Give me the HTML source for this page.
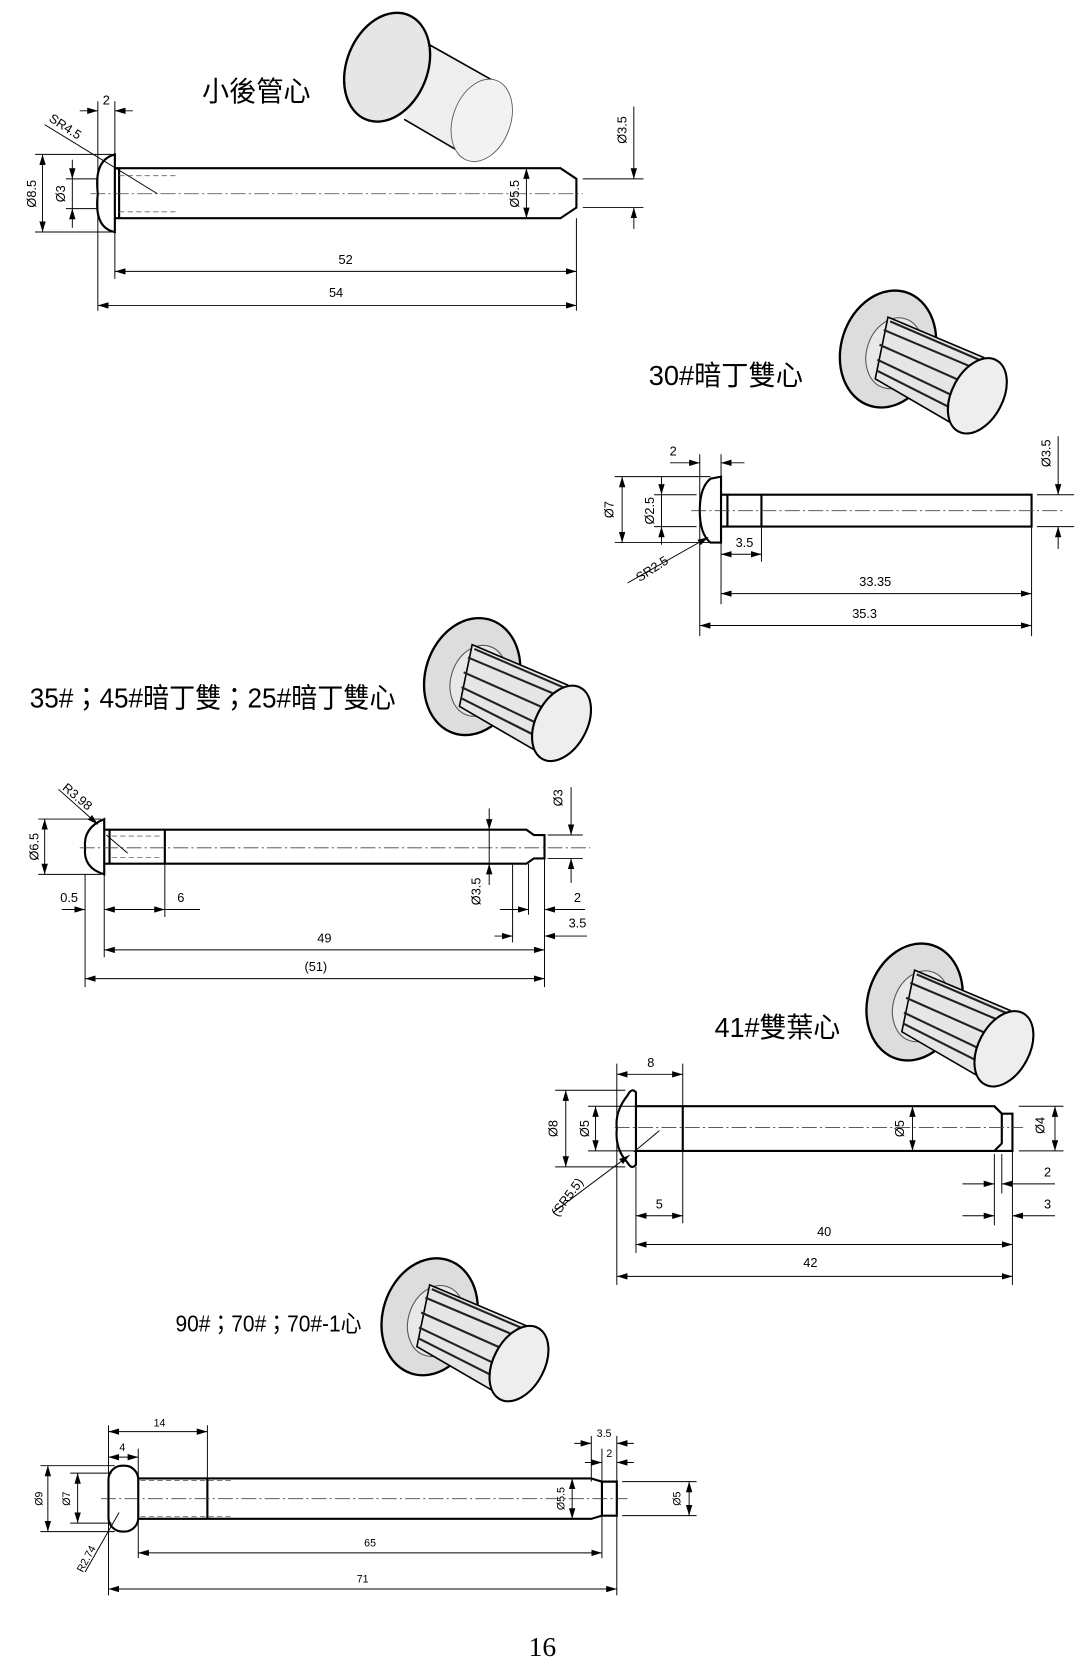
<!DOCTYPE html>
<html><head><meta charset="utf-8"><style>
html,body{margin:0;padding:0;background:#fff;}
svg{display:block;}
.o{fill:none;stroke:#000;stroke-width:2;}
.d{fill:none;stroke:#000;stroke-width:0.9;}
.c{fill:none;stroke:#444;stroke-width:0.8;stroke-dasharray:14 3 2 3;}
.h{fill:none;stroke:#666;stroke-width:0.8;stroke-dasharray:5 3;}
.t{font-family:"Liberation Sans Narrow","Liberation Sans",sans-serif;font-size:12px;fill:#000;}
.ti{font-family:"Liberation Sans","Noto Sans CJK TC",sans-serif;font-size:26px;fill:#000;}
</style></head><body>
<svg width="1089" height="1669" viewBox="0 0 1024 1569" xmlns="http://www.w3.org/2000/svg">
<defs>
<marker id="a" viewBox="0 0 10 6" refX="10" refY="3" markerWidth="10" markerHeight="6" markerUnits="userSpaceOnUse" orient="auto-start-reverse"><path d="M0,0 L10,3 L0,6 z" fill="#000"/></marker>
<g id="spl">
 <ellipse cx="0" cy="0" rx="44" ry="56" transform="rotate(18)" fill="#ddd" stroke="#000" stroke-width="2.2"/>
 <ellipse cx="6" cy="4" rx="26" ry="34" transform="rotate(18 6 4)" fill="#e8e8e8" stroke="#555" stroke-width="1"/>
 <path d="M0,-30 L90,8 L74,78 L-12,28 z" fill="#e6e6e6" stroke="#000" stroke-width="1.5"/>
 <path d="M-4,-18 L86,20 M-8,-4 L82,36 M-10,10 L78,52 M-11,20 L76,64 M2,-26 L90,12" stroke="#222" stroke-width="2"/>
 <ellipse cx="84" cy="44" rx="24" ry="38" transform="rotate(28 84 44)" fill="#eee" stroke="#000" stroke-width="2"/>
</g>
</defs>

<!-- ===== 1 ===== -->
<text class="ti" x="190" y="95" textLength="102" lengthAdjust="spacingAndGlyphs">小後管心</text>
<g>
 <path d="M404,42 L468,78 L440,147 L380,112 z" fill="#eee"/>
 <line x1="404" y1="42" x2="468" y2="78" stroke="#000" stroke-width="1.5"/>
 <line x1="380" y1="112" x2="440" y2="147" stroke="#000" stroke-width="1.5"/>
 <ellipse cx="453" cy="113" rx="27" ry="40" transform="rotate(20 453 113)" fill="#f2f2f2" stroke="#555" stroke-width="0.8"/>
 <ellipse cx="364" cy="63" rx="38" ry="53" transform="rotate(22 364 63)" fill="#e6e6e6" stroke="#000" stroke-width="2.2"/>
</g>
<path class="o" d="M108,145 Q88,150 92,182 Q88,214 108,218 Z"/>
<path class="o" d="M108,158 L527,158 L542,168 L542,195 L527,205 L108,205"/>
<line class="o" x1="112" y1="158" x2="112" y2="205"/>
<line class="c" x1="85" y1="182" x2="548" y2="182"/>
<line class="h" x1="112" y1="165" x2="165" y2="165"/><line class="h" x1="112" y1="199" x2="165" y2="199"/>
<line class="d" x1="33" y1="145" x2="105" y2="145"/><line class="d" x1="33" y1="218" x2="105" y2="218"/>
<line class="d" x1="40" y1="145" x2="40" y2="218" marker-start="url(#a)" marker-end="url(#a)"/>
<text class="t" transform="rotate(-90 30 182)" x="30" y="186" text-anchor="middle">Ø8.5</text>
<line class="d" x1="62" y1="168" x2="92" y2="168"/><line class="d" x1="62" y1="196" x2="92" y2="196"/>
<line class="d" x1="68" y1="150" x2="68" y2="168" marker-end="url(#a)"/><line class="d" x1="68" y1="214" x2="68" y2="196" marker-end="url(#a)"/>
<line class="d" x1="68" y1="168" x2="68" y2="196"/>
<text class="t" transform="rotate(-90 57 182)" x="57" y="186" text-anchor="middle">Ø3</text>
<line class="d" x1="92" y1="95" x2="92" y2="292"/><line class="d" x1="108" y1="95" x2="108" y2="262"/><line class="d" x1="542" y1="205" x2="542" y2="292"/>
<line class="d" x1="75" y1="104" x2="92" y2="104" marker-end="url(#a)"/><line class="d" x1="125" y1="104" x2="108" y2="104" marker-end="url(#a)"/>
<text class="t" x="100" y="98" text-anchor="middle">2</text>
<line class="d" x1="42" y1="117" x2="148" y2="182"/>
<text class="t" transform="rotate(33 60 118)" x="45" y="122">SR4.5</text>
<line class="d" x1="495" y1="158" x2="495" y2="205" marker-start="url(#a)" marker-end="url(#a)"/>
<text class="t" transform="rotate(-90 484 182)" x="484" y="186" text-anchor="middle">Ø5.5</text>
<line class="d" x1="548" y1="168" x2="605" y2="168"/><line class="d" x1="548" y1="195" x2="605" y2="195"/>
<line class="d" x1="596" y1="100" x2="596" y2="168" marker-end="url(#a)"/><line class="d" x1="596" y1="215" x2="596" y2="195" marker-end="url(#a)"/>
<text class="t" transform="rotate(-90 585 122)" x="585" y="126" text-anchor="middle">Ø3.5</text>
<line class="d" x1="108" y1="255" x2="542" y2="255" marker-start="url(#a)" marker-end="url(#a)"/><text class="t" x="325" y="248" text-anchor="middle">52</text>
<line class="d" x1="92" y1="287" x2="542" y2="287" marker-start="url(#a)" marker-end="url(#a)"/><text class="t" x="316" y="279" text-anchor="middle">54</text>

<!-- ===== 2 ===== -->
<text class="ti" x="610" y="362" textLength="145" lengthAdjust="spacingAndGlyphs">30#暗丁雙心</text>
<use href="#spl" x="835" y="328"/>
<path class="o" d="M678,448 L668,450 Q658,458 658,480 Q658,502 668,510 L678,510 Z"/>
<path class="o" d="M678,465 L970,465 L970,495 L678,495"/>
<line class="o" x1="684" y1="465" x2="684" y2="495"/><line class="o" x1="716" y1="465" x2="716" y2="495"/>
<line class="c" x1="650" y1="480" x2="1002" y2="480"/>
<line class="d" x1="578" y1="448" x2="668" y2="448"/><line class="d" x1="578" y1="510" x2="668" y2="510"/>
<line class="d" x1="585" y1="448" x2="585" y2="510" marker-start="url(#a)" marker-end="url(#a)"/>
<text class="t" transform="rotate(-90 573 479)" x="573" y="483" text-anchor="middle">Ø7</text>
<line class="d" x1="615" y1="465" x2="655" y2="465"/><line class="d" x1="615" y1="495" x2="655" y2="495"/>
<line class="d" x1="622" y1="448" x2="622" y2="465" marker-end="url(#a)"/><line class="d" x1="622" y1="512" x2="622" y2="495" marker-end="url(#a)"/>
<line class="d" x1="622" y1="465" x2="622" y2="495"/>
<text class="t" transform="rotate(-90 611 480)" x="611" y="484" text-anchor="middle">Ø2.5</text>
<line class="d" x1="658" y1="427" x2="658" y2="598"/><line class="d" x1="678" y1="427" x2="678" y2="568"/><line class="d" x1="716" y1="495" x2="716" y2="528"/><line class="d" x1="970" y1="495" x2="970" y2="598"/>
<line class="d" x1="630" y1="435" x2="658" y2="435" marker-end="url(#a)"/><line class="d" x1="700" y1="435" x2="678" y2="435" marker-end="url(#a)"/>
<text class="t" x="633" y="428" text-anchor="middle">2</text>
<line class="d" x1="590" y1="548" x2="666" y2="505" marker-end="url(#a)"/>
<text class="t" transform="rotate(-33 605 540)" x="598" y="544">SR2.5</text>
<line class="d" x1="678" y1="521" x2="716" y2="521" marker-start="url(#a)" marker-end="url(#a)"/><text class="t" x="700" y="514" text-anchor="middle">3.5</text>
<line class="d" x1="975" y1="465" x2="1010" y2="465"/><line class="d" x1="975" y1="495" x2="1010" y2="495"/>
<line class="d" x1="995" y1="410" x2="995" y2="465" marker-end="url(#a)"/><line class="d" x1="995" y1="516" x2="995" y2="495" marker-end="url(#a)"/>
<text class="t" transform="rotate(-90 984 426)" x="984" y="430" text-anchor="middle">Ø3.5</text>
<line class="d" x1="678" y1="558" x2="970" y2="558" marker-start="url(#a)" marker-end="url(#a)"/><text class="t" x="823" y="551" text-anchor="middle">33.35</text>
<line class="d" x1="658" y1="588" x2="970" y2="588" marker-start="url(#a)" marker-end="url(#a)"/><text class="t" x="813" y="581" text-anchor="middle">35.3</text>

<!-- ===== 3 ===== -->
<text class="ti" x="28" y="665" textLength="344" lengthAdjust="spacingAndGlyphs">35#；45#暗丁雙；25#暗丁雙心</text>
<use href="#spl" x="444" y="636"/>
<path class="o" d="M98,770 Q78,778 80,797 Q78,816 98,822 Z"/>
<path class="o" d="M98,780 L495,780 L502,785 L512,785 L512,807 L502,807 L495,812 L98,812"/>
<line class="o" x1="103" y1="780" x2="103" y2="812"/><line class="o" x1="155" y1="780" x2="155" y2="812"/>
<line class="c" x1="75" y1="797" x2="555" y2="797"/>
<line class="h" x1="105" y1="786" x2="152" y2="786"/><line class="h" x1="105" y1="806" x2="152" y2="806"/>
<line class="d" x1="36" y1="770" x2="95" y2="770"/><line class="d" x1="36" y1="822" x2="95" y2="822"/>
<line class="d" x1="42" y1="770" x2="42" y2="822" marker-start="url(#a)" marker-end="url(#a)"/>
<text class="t" transform="rotate(-90 32 796)" x="32" y="800" text-anchor="middle">Ø6.5</text>
<line class="d" x1="55" y1="742" x2="92" y2="775" marker-end="url(#a)"/><line class="d" x1="100" y1="785" x2="120" y2="802"/>
<text class="t" transform="rotate(40 62 740)" x="60" y="744">R3.98</text>
<line class="d" x1="460" y1="760" x2="460" y2="780" marker-end="url(#a)"/><line class="d" x1="460" y1="832" x2="460" y2="812" marker-end="url(#a)"/><line class="d" x1="460" y1="780" x2="460" y2="812"/>
<text class="t" transform="rotate(-90 448 838)" x="448" y="842" text-anchor="middle">Ø3.5</text>
<line class="d" x1="515" y1="785" x2="548" y2="785"/><line class="d" x1="515" y1="807" x2="548" y2="807"/>
<line class="d" x1="537" y1="740" x2="537" y2="785" marker-end="url(#a)"/><line class="d" x1="537" y1="830" x2="537" y2="807" marker-end="url(#a)"/>
<text class="t" transform="rotate(-90 525 750)" x="525" y="754" text-anchor="middle">Ø3</text>
<line class="d" x1="80" y1="822" x2="80" y2="928"/><line class="d" x1="98" y1="822" x2="98" y2="900"/><line class="d" x1="155" y1="812" x2="155" y2="862"/>
<line class="d" x1="482" y1="812" x2="482" y2="886"/><line class="d" x1="497" y1="812" x2="497" y2="860"/><line class="d" x1="512" y1="807" x2="512" y2="928"/>
<line class="d" x1="58" y1="855" x2="80" y2="855" marker-end="url(#a)"/><line class="d" x1="98" y1="855" x2="155" y2="855" marker-start="url(#a)" marker-end="url(#a)"/><line class="d" x1="155" y1="855" x2="188" y2="855"/>
<text class="t" x="65" y="848" text-anchor="middle">0.5</text><text class="t" x="170" y="848" text-anchor="middle">6</text>
<line class="d" x1="470" y1="855" x2="497" y2="855" marker-end="url(#a)"/><line class="d" x1="550" y1="855" x2="512" y2="855" marker-end="url(#a)"/>
<text class="t" x="543" y="848" text-anchor="middle">2</text>
<line class="d" x1="465" y1="880" x2="482" y2="880" marker-end="url(#a)"/><line class="d" x1="552" y1="880" x2="512" y2="880" marker-end="url(#a)"/>
<text class="t" x="543" y="872" text-anchor="middle">3.5</text>
<line class="d" x1="98" y1="893" x2="512" y2="893" marker-start="url(#a)" marker-end="url(#a)"/><text class="t" x="305" y="886" text-anchor="middle">49</text>
<line class="d" x1="80" y1="920" x2="512" y2="920" marker-start="url(#a)" marker-end="url(#a)"/><text class="t" x="297" y="913" text-anchor="middle">(51)</text>

<!-- ===== 4 ===== -->
<text class="ti" x="672" y="975" textLength="118" lengthAdjust="spacingAndGlyphs">41#雙葉心</text>
<use href="#spl" x="860" y="942"/>
<path class="o" d="M598,1027 Q594,1022 590,1030 Q578,1045 580,1061 Q578,1080 590,1093 Q594,1100 598,1095 Z"/>
<path class="o" d="M598,1040 L935,1040 L942,1047 L952,1047 L952,1082 L942,1082 L935,1082 L598,1082"/>
<path class="o" d="M935,1040 L942,1047 L942,1075 L935,1082"/>
<line class="o" x1="642" y1="1040" x2="642" y2="1082"/>
<line class="c" x1="578" y1="1060" x2="962" y2="1060"/>
<line class="d" x1="522" y1="1025" x2="588" y2="1025"/><line class="d" x1="522" y1="1097" x2="588" y2="1097"/>
<line class="d" x1="532" y1="1025" x2="532" y2="1097" marker-start="url(#a)" marker-end="url(#a)"/>
<text class="t" transform="rotate(-90 520 1061)" x="520" y="1065" text-anchor="middle">Ø8</text>
<line class="d" x1="553" y1="1040" x2="598" y2="1040"/><line class="d" x1="553" y1="1082" x2="598" y2="1082"/>
<line class="d" x1="560" y1="1040" x2="560" y2="1082" marker-start="url(#a)" marker-end="url(#a)"/>
<text class="t" transform="rotate(-90 550 1061)" x="550" y="1065" text-anchor="middle">Ø5</text>
<line class="d" x1="858" y1="1040" x2="858" y2="1082" marker-start="url(#a)" marker-end="url(#a)"/>
<text class="t" transform="rotate(-90 846 1061)" x="846" y="1065" text-anchor="middle">Ø5</text>
<line class="d" x1="958" y1="1040" x2="1000" y2="1040"/><line class="d" x1="958" y1="1082" x2="1000" y2="1082"/>
<line class="d" x1="992" y1="1040" x2="992" y2="1082" marker-start="url(#a)" marker-end="url(#a)"/>
<text class="t" transform="rotate(-90 978 1058)" x="978" y="1062" text-anchor="middle">Ø4</text>
<line class="d" x1="580" y1="1000" x2="580" y2="1208"/><line class="d" x1="598" y1="1097" x2="598" y2="1178"/><line class="d" x1="642" y1="1000" x2="642" y2="1150"/>
<line class="d" x1="580" y1="1010" x2="642" y2="1010" marker-start="url(#a)" marker-end="url(#a)"/><text class="t" x="612" y="1003" text-anchor="middle">8</text>
<line class="d" x1="598" y1="1143" x2="642" y2="1143" marker-start="url(#a)" marker-end="url(#a)"/><text class="t" x="620" y="1136" text-anchor="middle">5</text>
<line class="d" x1="520" y1="1140" x2="592" y2="1086" marker-end="url(#a)"/><line class="d" x1="596" y1="1083" x2="620" y2="1063"/>
<text class="t" transform="rotate(-53 530 1130)" x="515" y="1134">(SR5.5)</text>
<line class="d" x1="935" y1="1085" x2="935" y2="1152"/><line class="d" x1="942" y1="1085" x2="942" y2="1122"/><line class="d" x1="952" y1="1082" x2="952" y2="1208"/>
<line class="d" x1="905" y1="1113" x2="935" y2="1113" marker-end="url(#a)"/><line class="d" x1="992" y1="1113" x2="942" y2="1113" marker-end="url(#a)"/>
<text class="t" x="985" y="1106" text-anchor="middle">2</text>
<line class="d" x1="905" y1="1143" x2="935" y2="1143" marker-end="url(#a)"/><line class="d" x1="992" y1="1143" x2="952" y2="1143" marker-end="url(#a)"/>
<text class="t" x="985" y="1136" text-anchor="middle">3</text>
<line class="d" x1="598" y1="1170" x2="952" y2="1170" marker-start="url(#a)" marker-end="url(#a)"/><text class="t" x="775" y="1162" text-anchor="middle">40</text>
<line class="d" x1="580" y1="1200" x2="952" y2="1200" marker-start="url(#a)" marker-end="url(#a)"/><text class="t" x="762" y="1191" text-anchor="middle">42</text>

<!-- ===== 5 ===== -->
<text class="ti" x="165" y="1252" style="font-size:22px" textLength="175" lengthAdjust="spacingAndGlyphs">90#；70#；70#-1心</text>
<use href="#spl" x="404" y="1238"/>
<rect class="o" x="102" y="1378" width="28" height="62" rx="13" ry="13"/>
<path class="o" d="M130,1390 L556,1390 L566,1393 L580,1393 L580,1425 L566,1425 L556,1428 L130,1428"/>
<line class="o" x1="195" y1="1390" x2="195" y2="1428"/><line class="o" x1="566" y1="1393" x2="566" y2="1425"/>
<line class="c" x1="95" y1="1409" x2="590" y2="1409"/>
<line class="h" x1="132" y1="1392" x2="220" y2="1392"/><line class="h" x1="132" y1="1426" x2="220" y2="1426"/>
<line class="d" x1="38" y1="1378" x2="108" y2="1378"/><line class="d" x1="38" y1="1440" x2="108" y2="1440"/>
<line class="d" x1="45" y1="1378" x2="45" y2="1440" marker-start="url(#a)" marker-end="url(#a)"/>
<text class="t" transform="rotate(-90 36 1409)" x="36" y="1413" text-anchor="middle" style="font-size:10px">Ø9</text>
<line class="d" x1="66" y1="1385" x2="105" y2="1385"/><line class="d" x1="66" y1="1432" x2="105" y2="1432"/>
<line class="d" x1="73" y1="1385" x2="73" y2="1432" marker-start="url(#a)" marker-end="url(#a)"/>
<text class="t" transform="rotate(-90 62 1409)" x="62" y="1413" text-anchor="middle" style="font-size:10px">Ø7</text>
<line class="d" x1="102" y1="1340" x2="102" y2="1500"/><line class="d" x1="130" y1="1362" x2="130" y2="1465"/><line class="d" x1="195" y1="1340" x2="195" y2="1390"/>
<line class="d" x1="102" y1="1346" x2="195" y2="1346" marker-start="url(#a)" marker-end="url(#a)"/><text class="t" x="150" y="1341" text-anchor="middle" style="font-size:10px">14</text>
<line class="d" x1="102" y1="1370" x2="130" y2="1370" marker-start="url(#a)" marker-end="url(#a)"/><text class="t" x="115" y="1364" text-anchor="middle" style="font-size:10px">4</text>
<line class="d" x1="80" y1="1478" x2="112" y2="1422"/>
<text class="t" transform="rotate(-62 78 1470)" x="70" y="1474" style="font-size:10px">R2.74</text>
<line class="d" x1="556" y1="1350" x2="556" y2="1393"/><line class="d" x1="566" y1="1362" x2="566" y2="1465"/><line class="d" x1="580" y1="1350" x2="580" y2="1500"/>
<line class="d" x1="540" y1="1357" x2="556" y2="1357" marker-end="url(#a)"/><line class="d" x1="596" y1="1357" x2="580" y2="1357" marker-end="url(#a)"/>
<text class="t" x="568" y="1351" text-anchor="middle" style="font-size:10px">3.5</text>
<line class="d" x1="550" y1="1375" x2="566" y2="1375" marker-end="url(#a)"/><line class="d" x1="596" y1="1375" x2="580" y2="1375" marker-end="url(#a)"/>
<text class="t" x="573" y="1370" text-anchor="middle" style="font-size:10px">2</text>
<line class="d" x1="538" y1="1390" x2="538" y2="1428" marker-start="url(#a)" marker-end="url(#a)"/>
<text class="t" transform="rotate(-90 527 1409)" x="527" y="1413" text-anchor="middle" style="font-size:10px">Ø5.5</text>
<line class="d" x1="585" y1="1393" x2="655" y2="1393"/><line class="d" x1="585" y1="1425" x2="655" y2="1425"/>
<line class="d" x1="648" y1="1393" x2="648" y2="1425" marker-start="url(#a)" marker-end="url(#a)"/>
<text class="t" transform="rotate(-90 636 1409)" x="636" y="1413" text-anchor="middle" style="font-size:10px">Ø5</text>
<line class="d" x1="130" y1="1460" x2="566" y2="1460" marker-start="url(#a)" marker-end="url(#a)"/><text class="t" x="348" y="1454" text-anchor="middle" style="font-size:10px">65</text>
<line class="d" x1="102" y1="1494" x2="580" y2="1494" marker-start="url(#a)" marker-end="url(#a)"/><text class="t" x="341" y="1488" text-anchor="middle" style="font-size:10px">71</text>

<text x="510" y="1557" text-anchor="middle" style="font-family:'Liberation Serif',serif;font-size:26px">16</text>
</svg>
</body></html>
